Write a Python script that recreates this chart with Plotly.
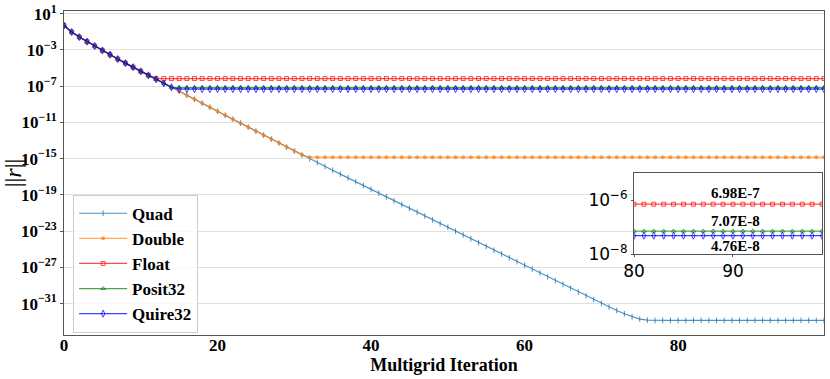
import numpy as np
import plotly.graph_objects as go

# ---------------- data ----------------
iterations = list(range(100))

# log10 of the Quad residual norm at every multigrid iteration
quad_log10 = [
    -0.30, -1.02, -1.58, -2.08, -2.56, -3.05, -3.52, -4.00, -4.45, -4.90,
    -5.36, -5.80, -6.24, -6.68, -7.12, -7.56, -8.00, -8.44, -8.88, -9.32,
    -9.76, -10.20, -10.64, -11.08, -11.52, -11.96, -12.40, -12.84, -13.28, -13.72,
    -14.16, -14.60, -15.02, -15.44, -15.86, -16.28, -16.70, -17.12, -17.54, -17.96,
    -18.38, -18.80, -19.22, -19.64, -20.06, -20.48, -20.90, -21.32, -21.74, -22.16,
    -22.58, -23.00, -23.42, -23.84, -24.26, -24.68, -25.10, -25.52, -25.94, -26.36,
    -26.78, -27.20, -27.62, -28.04, -28.46, -28.88, -29.30, -29.72, -30.14, -30.56,
    -30.98, -31.38, -31.76, -32.12, -32.45, -32.70, -32.82, -32.85, -32.85, -32.85,
    -32.85, -32.85, -32.85, -32.85, -32.85, -32.85, -32.85, -32.85, -32.85, -32.85,
    -32.85, -32.85, -32.85, -32.85, -32.85, -32.85, -32.85, -32.85, -32.85, -32.85,
]

# stagnation levels of the lower precisions
double_floor = 1.45e-15
float_floor = 6.98e-7
posit32_floor = 7.07e-8
quire32_floor = 4.76e-8

# iteration from which each precision sits on its floor
double_stall = 32
float_stall = 12
posit32_stall = 15
quire32_stall = 15

quad = [10 ** v for v in quad_log10]
double = quad[:double_stall] + [double_floor] * (100 - double_stall)
float32 = quad[:float_stall] + [float_floor] * (100 - float_stall)
posit32 = quad[:posit32_stall] + [posit32_floor] * (100 - posit32_stall)
quire32 = quad[:quire32_stall] + [quire32_floor] * (100 - quire32_stall)

series_names = ["Quad", "Double", "Float", "Posit32", "Quire32"]
series_values = [quad, double, float32, posit32, quire32]

x_ticks = [0, 20, 40, 60, 80]
y_tick_exps = [1, -3, -7, -11, -15, -19, -23, -27, -31]
inset_x_ticks = [80, 90]
inset_y_tick_exps = [-6, -8]
inset_series = ["Float", "Posit32", "Quire32"]

# ---------------- styling ----------------
colors = {
    "Quad": "rgba(31,119,180,0.8)",
    "Double": "rgba(255,127,14,0.7)",
    "Float": "rgba(255,0,0,0.7)",
    "Posit32": "rgba(0,128,0,0.7)",
    "Quire32": "rgba(0,0,255,0.75)",
}
markers = {
    "Quad": dict(symbol="line-ns-open", size=4, lw=1),
    "Double": dict(symbol="circle", size=4, lw=0),
    "Float": dict(symbol="square-open", size=4, lw=1),
    "Posit32": dict(symbol="triangle-up-open", size=4, lw=1),
    "Quire32": dict(symbol="diamond-tall-open", size=5, lw=1),
}

SERIF = "Liberation Serif"
SANS = "DejaVu Sans"


def sci_label(v):
    e = int(np.floor(np.log10(v)))
    m = v / 10 ** e
    return f"{m:.2f}E{e}"


def add_series(fig, name, xs, ys, xa, ya, legend):
    mk = markers[name]
    fig.add_trace(go.Scatter(
        x=xs, y=ys, name=name, mode="lines+markers",
        legendgroup=name, showlegend=legend,
        line=dict(color=colors[name], width=1.2),
        marker=dict(symbol=mk["symbol"], size=mk["size"], color=colors[name],
                    line=dict(color=colors[name], width=mk["lw"])),
        xaxis=xa, yaxis=ya,
    ))


fig = go.Figure()
for name, vals in zip(series_names, series_values):
    add_series(fig, name, iterations, vals, "x", "y", True)

for name, vals in zip(series_names, series_values):
    if name in inset_series:
        add_series(fig, name, iterations[80:], vals[80:], "x2", "y2", False)

annotations = []
label_shift = {"Float": 11, "Posit32": 10, "Quire32": -10}
for name, vals in zip(series_names, series_values):
    if name not in inset_series:
        continue
    v = vals[-1]
    annotations.append(dict(
        x=90.3, y=np.log10(v), xref="x2", yref="y2", text=sci_label(v),
        showarrow=False, yshift=label_shift[name],
        font=dict(family=SERIF, size=15, color="black", weight="bold"),
    ))

fig.update_layout(
    width=830, height=379,
    margin=dict(l=64, r=6, t=11, b=44),
    paper_bgcolor="white", plot_bgcolor="white",
    showlegend=True,
    legend=dict(
        x=0.012, y=0.433, xanchor="left", yanchor="top",
        bgcolor="rgba(255,255,255,0.8)", bordercolor="#cccccc", borderwidth=1,
        font=dict(family=SERIF, size=17, color="black", weight="bold"),
        tracegroupgap=0, itemwidth=48,
    ),
    annotations=annotations,
    xaxis=dict(
        domain=[0, 1], range=[0, 99], tickvals=x_ticks,
        showgrid=False, zeroline=False,
        showline=True, linecolor="#555555", linewidth=1, mirror=True,
        ticks="", ticklen=0, ticklabelstandoff=-5,
        tickfont=dict(family=SERIF, size=17, color="black", weight="bold"),
        title=dict(text="Multigrid Iteration", standoff=0,
                   font=dict(family=SERIF, size=18, color="black", weight="bold")),
        automargin=False,
    ),
    yaxis=dict(
        domain=[0, 1], type="log", range=[-34.46, 1.30],
        tickvals=[10.0 ** e for e in y_tick_exps],
        ticktext=[f"10<sup>{str(e).replace('-', '−')}</sup>" for e in y_tick_exps],
        showgrid=True, gridcolor="#e0e0e0", gridwidth=1, zeroline=False,
        showline=True, linecolor="#555555", linewidth=1, mirror=True,
        ticks="outside", ticklen=3, tickcolor="#555555",
        tickfont=dict(family=SERIF, size=17, color="black", weight="bold"),
        title=dict(text="||<i>r</i>||", standoff=2,
                   font=dict(family=SERIF, size=24, color="black")),
        automargin=False,
    ),
    xaxis2=dict(
        domain=[0.75, 0.9974], range=[80, 99], anchor="y2",
        tickvals=inset_x_ticks,
        showgrid=False, zeroline=False,
        showline=True, linecolor="#555555", linewidth=1, mirror=True,
        ticks="outside", ticklen=2, tickcolor="#555555",
        tickfont=dict(family=SANS, size=17, color="black"),
        automargin=False,
    ),
    yaxis2=dict(
        domain=[0.25, 0.5], type="log", range=[-8, -5], anchor="x2",
        tickvals=[10.0 ** e for e in inset_y_tick_exps],
        ticktext=[f"10<sup>{str(e).replace('-', '−')}</sup>" for e in inset_y_tick_exps],
        showgrid=False, zeroline=False,
        showline=True, linecolor="#555555", linewidth=1, mirror=True,
        ticks="outside", ticklen=2, tickcolor="#555555",
        tickfont=dict(family=SANS, size=17, color="black"),
        automargin=False,
    ),
)

fig.write_html("out.html",
               config={"displayModeBar": False},
               post_script="document.body.style.margin='0';document.body.style.padding='0';")
